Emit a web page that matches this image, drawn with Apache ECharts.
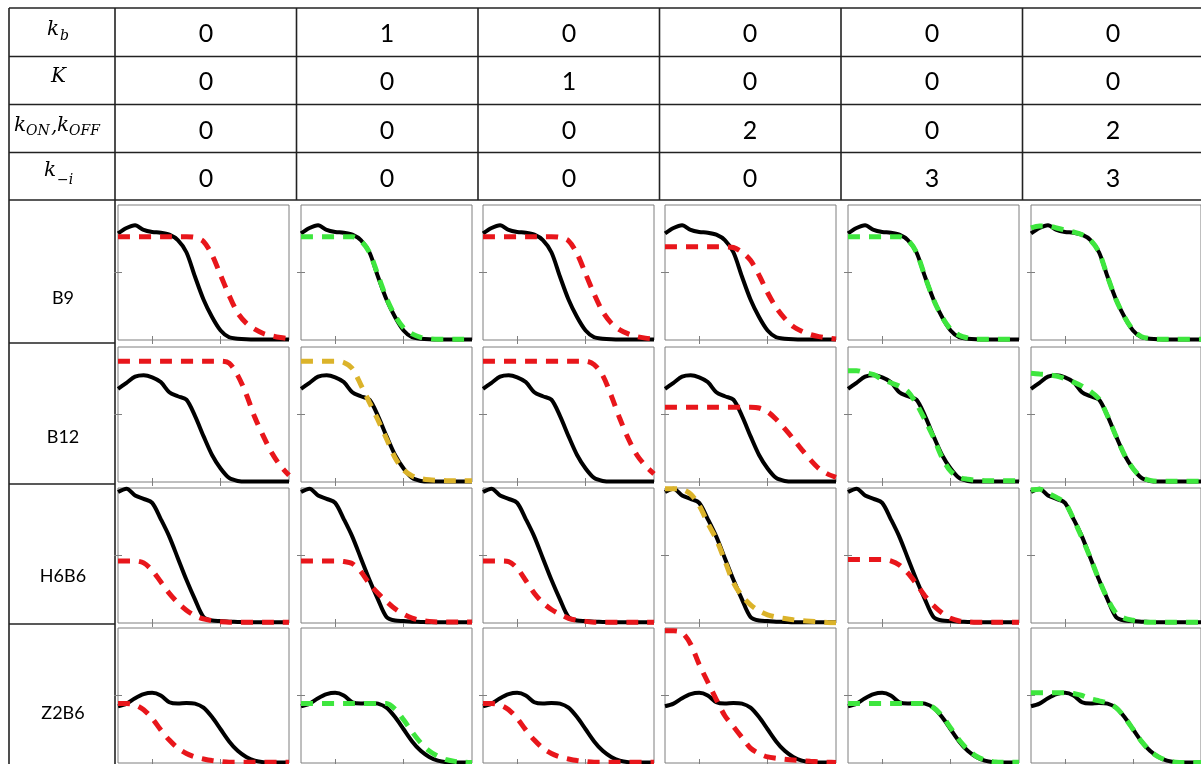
<!DOCTYPE html>
<html><head><meta charset="utf-8">
<script src="https://cdn.jsdelivr.net/npm/echarts@6/dist/echarts.min.js"></script>
<style>html,body{margin:0;padding:0;background:#fff}#c{width:1201px;height:764px}</style>
</head><body><div id="c"></div><script>
// ---------- data ----------
const xs = [0,0.05,0.1,0.15,0.2,0.25,0.3,0.35,0.4,0.45,0.5,0.55,0.6,0.65,0.7,0.75,0.8,0.85,0.9,0.95,1];
const rowNames = ['B9','B12','H6B6','Z2B6'];
const kbValues   = ['0','1','0','0','0','0'];
const KValues    = ['0','0','1','0','0','0'];
const konValues  = ['0','0','0','2','0','2'];
const kiValues   = ['0','0','0','0','3','3'];
const xTicks = [0.2, 0.6];
const yTicks = [0.5];

// measured (black) curves, one per row
const black_B9   = [0.79,0.83,0.85,0.815,0.80,0.795,0.78,0.74,0.65,0.47,0.30,0.17,0.07,0.02,0.01,0.005,0.003,0.003,0.003,0.003,0.003];
const black_B12  = [0.69,0.735,0.78,0.79,0.775,0.74,0.665,0.635,0.61,0.49,0.34,0.20,0.10,0.03,0.008,0.003,0.003,0.003,0.003,0.003,0.003];
const black_H6B6 = [0.97,0.995,0.945,0.92,0.89,0.77,0.64,0.48,0.32,0.175,0.045,0.018,0.014,0.01,0.008,0.005,0.005,0.005,0.005,0.005,0.005];
const black_Z2B6 = [0.42,0.44,0.48,0.51,0.52,0.50,0.45,0.44,0.445,0.44,0.41,0.34,0.25,0.16,0.09,0.045,0.018,0.006,0.003,0.003,0.003];

// model (dashed) curves, six per row
const fits_B9 = [
  [0.765,0.765,0.765,0.765,0.765,0.765,0.765,0.765,0.765,0.76,0.73,0.63,0.48,0.33,0.20,0.125,0.08,0.048,0.03,0.018,0.01],
  [0.765,0.765,0.765,0.765,0.765,0.765,0.765,0.735,0.65,0.48,0.31,0.18,0.09,0.045,0.02,0.01,0.005,0.005,0.005,0.005,0.005],
  [0.765,0.765,0.765,0.765,0.765,0.765,0.765,0.765,0.765,0.76,0.735,0.64,0.49,0.34,0.21,0.125,0.075,0.045,0.025,0.014,0.007],
  [0.69,0.69,0.69,0.69,0.69,0.69,0.69,0.69,0.685,0.65,0.59,0.48,0.35,0.24,0.16,0.10,0.065,0.04,0.025,0.015,0.008],
  [0.765,0.765,0.765,0.765,0.765,0.765,0.765,0.74,0.65,0.47,0.30,0.17,0.08,0.035,0.015,0.005,0.005,0.005,0.005,0.005,0.005],
  [0.83,0.845,0.845,0.83,0.815,0.80,0.78,0.74,0.65,0.47,0.30,0.17,0.075,0.025,0.01,0.005,0.005,0.005,0.005,0.005,0.005]
];
const fits_B12 = [
  [0.895,0.895,0.895,0.895,0.895,0.895,0.895,0.895,0.895,0.895,0.895,0.895,0.895,0.88,0.79,0.65,0.48,0.34,0.215,0.12,0.05],
  [0.895,0.895,0.895,0.895,0.895,0.885,0.84,0.72,0.59,0.46,0.32,0.18,0.09,0.045,0.025,0.016,0.012,0.01,0.01,0.01,0.01],
  [0.895,0.895,0.895,0.895,0.895,0.895,0.895,0.895,0.895,0.895,0.895,0.895,0.895,0.87,0.79,0.64,0.47,0.32,0.20,0.12,0.06],
  [0.553,0.553,0.553,0.553,0.553,0.553,0.553,0.553,0.553,0.553,0.553,0.548,0.52,0.465,0.395,0.32,0.24,0.165,0.10,0.06,0.035],
  [0.825,0.825,0.81,0.795,0.76,0.735,0.71,0.67,0.58,0.46,0.33,0.18,0.08,0.035,0.02,0.013,0.01,0.01,0.01,0.01,0.01],
  [0.805,0.80,0.795,0.785,0.765,0.74,0.71,0.67,0.615,0.49,0.34,0.20,0.10,0.035,0.012,0.005,0.005,0.005,0.005,0.005,0.005]
];
const fits_H6B6 = [
  [0.46,0.46,0.46,0.445,0.39,0.305,0.22,0.15,0.095,0.055,0.03,0.017,0.01,0.006,0.006,0.006,0.006,0.006,0.006,0.006,0.006],
  [0.46,0.46,0.46,0.46,0.46,0.455,0.44,0.38,0.29,0.22,0.16,0.105,0.065,0.036,0.02,0.012,0.008,0.008,0.008,0.008,0.008],
  [0.46,0.46,0.46,0.455,0.405,0.315,0.22,0.15,0.10,0.065,0.035,0.02,0.012,0.006,0.006,0.006,0.006,0.006,0.006,0.006,0.006],
  [0.995,0.995,0.99,0.955,0.87,0.74,0.62,0.46,0.30,0.20,0.135,0.09,0.06,0.044,0.033,0.024,0.018,0.013,0.008,0.004,0.002],
  [0.47,0.47,0.47,0.47,0.47,0.46,0.43,0.37,0.29,0.20,0.13,0.075,0.035,0.015,0.008,0.005,0.005,0.005,0.005,0.005,0.005],
  [0.985,0.99,0.96,0.93,0.89,0.77,0.63,0.48,0.32,0.18,0.075,0.035,0.02,0.01,0.005,0.005,0.005,0.005,0.005,0.005,0.005]
];
const fits_Z2B6 = [
  [0.44,0.44,0.43,0.395,0.33,0.245,0.17,0.11,0.07,0.045,0.03,0.018,0.01,0.005,0.005,0.005,0.005,0.005,0.005,0.005,0.005],
  [0.44,0.44,0.44,0.44,0.44,0.44,0.44,0.44,0.44,0.44,0.44,0.40,0.32,0.23,0.15,0.09,0.05,0.025,0.012,0.006,0.003],
  [0.44,0.44,0.43,0.395,0.33,0.245,0.17,0.11,0.07,0.045,0.03,0.018,0.01,0.005,0.005,0.005,0.005,0.005,0.005,0.005,0.005],
  [0.98,0.98,0.965,0.88,0.73,0.60,0.47,0.35,0.27,0.19,0.11,0.07,0.045,0.035,0.028,0.022,0.018,0.013,0.009,0.006,0.004],
  [0.44,0.44,0.44,0.44,0.44,0.44,0.44,0.44,0.44,0.44,0.41,0.35,0.26,0.17,0.10,0.05,0.022,0.01,0.005,0.005,0.005],
  [0.52,0.52,0.52,0.52,0.52,0.515,0.50,0.475,0.46,0.445,0.41,0.34,0.25,0.16,0.09,0.045,0.018,0.006,0.003,0.003,0.003]
];
// dashed colour per panel: r = red, g = green, y = yellow
const fitColors_B9   = ['r','g','r','r','g','g'];
const fitColors_B12  = ['r','y','r','r','g','g'];
const fitColors_H6B6 = ['r','r','r','y','r','g'];
const fitColors_Z2B6 = ['r','g','r','r','g','g'];

// ---------- layout ----------
const COLORS = {r:'#e8161b', g:'#3ee63e', y:'#dbb32a'};
const plotLefts = [118, 301, 483, 665, 848, 1031];
const plotTops = [205, 347, 488, 628];
const PW = 171, PH = 135;
const colCenters = [206, 387, 569, 750, 932, 1113];
const headerCenters = [34, 82, 131, 178.5];
const colLines = [9, 115, 296.5, 478, 659.5, 841, 1022.5];
const headLines = [8, 56.5, 104.5, 152.5, 200];
const rowLines = [343, 484, 624];
const rowLabelY = [298, 437, 576, 713];

const blacks = [black_B9, black_B12, black_H6B6, black_Z2B6];
const fits = [fits_B9, fits_B12, fits_H6B6, fits_Z2B6];
const fitColors = [fitColors_B9, fitColors_B12, fitColors_H6B6, fitColors_Z2B6];

const grids = [], xAxes = [], yAxes = [], series = [];
const tickStyle = {color:'#7f7f7f', width:1};
for (let r = 0; r < 4; r++) {
  for (let c = 0; c < 6; c++) {
    const gi = grids.length;
    grids.push({left: plotLefts[c], top: plotTops[r], width: PW, height: PH, show: true,
      borderColor: '#7f7f7f', borderWidth: 1, backgroundColor: '#fff', containLabel: false});
    ['bottom','top'].forEach(pos => xAxes.push({gridIndex: gi, type: 'value', min: 0, max: 1, position: pos,
      axisLine: {show: false}, splitLine: {show: false}, axisLabel: {show: false},
      axisTick: {show: true, inside: true, length: 4, customValues: xTicks, lineStyle: tickStyle}}));
    ['left','right'].forEach(pos => yAxes.push({gridIndex: gi, type: 'value', min: 0, max: 1, interval: 0.5, position: pos,
      axisLine: {show: false}, splitLine: {show: false}, axisLabel: {show: false},
      axisTick: {show: true, inside: true, length: 4, customValues: yTicks, lineStyle: tickStyle}}));
    series.push({type: 'line', xAxisIndex: 2*gi, yAxisIndex: 2*gi, symbol: 'none', smooth: 0.3,
      silent: true, clip: true, data: xs.map((x, i) => [x, blacks[r][i]]),
      lineStyle: {color: '#000', width: 4}, z: 2});
    series.push({type: 'line', xAxisIndex: 2*gi, yAxisIndex: 2*gi, symbol: 'none', smooth: 0.3,
      silent: true, clip: true, data: xs.map((x, i) => [x, fits[r][c][i]]),
      lineStyle: {color: COLORS[fitColors[r][c]], width: 5, type: [12, 9]}, z: 3});
  }
}

// ---------- table graphics ----------
const LINE = {stroke: '#222', lineWidth: 1.6};
const g = [];
headLines.forEach(y => g.push({type: 'line', shape: {x1: 9, y1: y, x2: 1201, y2: y}, style: LINE}));
colLines.forEach(x => g.push({type: 'line', shape: {x1: x, y1: 8, x2: x, y2: 200}, style: LINE}));
[9, 115].forEach(x => g.push({type: 'line', shape: {x1: x, y1: 200, x2: x, y2: 764}, style: LINE}));
rowLines.forEach(y => g.push({type: 'line', shape: {x1: 9, y1: y, x2: 115, y2: y}, style: LINE}));

function txt(t, x, y, font, align) {
  return {type: 'text', x: x, y: y, style: {text: t, font: font, fill: '#000',
    textAlign: align || 'left', textVerticalAlign: 'middle', align: align || 'left', verticalAlign: 'middle'}};
}
const MF = 'italic 20px "DejaVu Serif"';
const SF = 'italic 14px "DejaVu Serif"';
g.push(txt('k', 47, 30, MF));
g.push(txt('b', 60, 36, SF));
g.push(txt('K', 51, 77, MF));
g.push(txt('k', 14, 126, MF));
g.push(txt('ON', 26, 131, SF));
g.push(txt(',', 51, 127, MF));
g.push(txt('k', 57, 126, MF));
g.push(txt('OFF', 69, 131, SF));
g.push(txt('k', 44, 171, MF));
g.push(txt('\u2212i', 57, 180, SF));

const headerRows = [kbValues, KValues, konValues, kiValues];
headerRows.forEach((vals, r) => vals.forEach((v, c) =>
  g.push(txt(v, colCenters[c], headerCenters[r], '25px Lato', 'center'))));
rowNames.forEach((n, r) => g.push(txt(n, 63, rowLabelY[r], '18px Lato', 'center')));

const chart = echarts.init(document.getElementById('c'));
chart.setOption({
  animation: false,
  backgroundColor: '#fff',
  grid: grids, xAxis: xAxes, yAxis: yAxes, series: series,
  graphic: {elements: g}
});
</script></body></html>
